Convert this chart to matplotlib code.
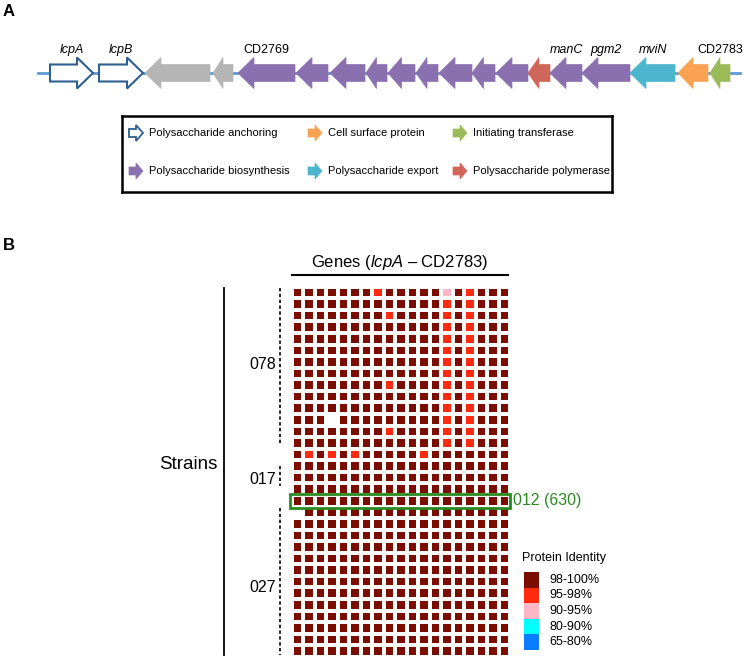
import numpy as np
import matplotlib
matplotlib.use('Agg')
import matplotlib.pyplot as plt
from matplotlib.patches import FancyArrow, Rectangle
from matplotlib.colors import ListedColormap, BoundaryNorm

plt.rcParams['font.family'] = ['Liberation Sans', 'DejaVu Sans']
plt.rcParams['mathtext.fontset'] = 'custom'
plt.rcParams['mathtext.rm'] = 'Liberation Sans'
plt.rcParams['mathtext.it'] = 'Liberation Sans:italic'

# ---- panel A: gene cluster (positions along the locus, drawing units) ----
gene_start = [50, 99, 145, 213, 238, 296, 330, 366, 388, 416, 439, 472, 496, 528, 550, 582, 630, 678, 710]
gene_end = [93, 143, 210, 233, 295, 328, 365, 387, 415, 438, 472, 495, 528, 550, 582, 630, 675, 708, 730]
gene_strand = [1, 1, -1, -1, -1, -1, -1, -1, -1, -1, -1, -1, -1, -1, -1, -1, -1, -1, -1]
gene_class = ['anchor', 'anchor', 'other', 'other', 'bio', 'bio', 'bio', 'bio', 'bio', 'bio',
              'bio', 'bio', 'bio', 'poly', 'bio', 'bio', 'export', 'surface', 'init']
gene_label = {0: 'lcpA', 1: 'lcpB', 4: 'CD2769', 14: 'manC', 15: 'pgm2', 16: 'mviN', 18: 'CD2783'}
italic_labels = ['lcpA', 'lcpB', 'manC', 'pgm2', 'mviN']

class_colors = {
    'anchor': 'white', 'other': '#B5B5B5', 'bio': '#8B70AF', 'poly': '#D0665A',
    'export': '#4DB6CF', 'surface': '#F9A352', 'init': '#9BBB59',
}
legend_names = [('anchor', 'Polysaccharide anchoring'), ('surface', 'Cell surface protein'),
                ('init', 'Initiating transferase'), ('bio', 'Polysaccharide biosynthesis'),
                ('export', 'Polysaccharide export'), ('poly', 'Polysaccharide polymerase')]

# ---- panel B: protein identity per strain (rows) and gene (columns) ----
n_strains = 32
n_genes = 19
red_cells = [(0, 7), (0, 15), (1, 13), (1, 15), (2, 8), (2, 13), (2, 15), (3, 13), (3, 15),
             (4, 13), (4, 15), (5, 13), (5, 15), (6, 13), (6, 15), (7, 13), (7, 15),
             (8, 8), (8, 13), (8, 15), (9, 13), (9, 15), (10, 13), (10, 15), (11, 13), (11, 15),
             (12, 8), (12, 13), (12, 15), (13, 13), (13, 15),
             (14, 1), (14, 3), (14, 5), (14, 11)]
pink_cells = [(0, 13)]
missing_cells = [(11, 3), (19, 0)]
groups = ['078', '017', '027']
highlight_row = 18
highlight_name = '012 (630)'

id_bins = [65, 80, 90, 95, 98, 100.5]
id_colors = ['#0A7CFF', '#00FFFF', '#FFB6C6', '#FF2A10', '#7A0C00']
id_labels = ['65-80%', '80-90%', '90-95%', '95-98%', '98-100%']

identity = np.full((n_strains, n_genes), 99.0)
for r, c in red_cells:
    identity[r, c] = 96.5
for r, c in pink_cells:
    identity[r, c] = 92.0
for r, c in missing_cells:
    identity[r, c] = np.nan

W, H = 744, 662
fig = plt.figure(figsize=(W / 100, H / 100), dpi=100)


def fx(x):
    return x / W


def fy(y):
    return 1 - y / H


# panel A gene map
ax_a = fig.add_axes([0, fy(100), 1, 100 / H])
ax_a.set_xlim(0, W)
ax_a.set_ylim(100, 0)
ax_a.axis('off')
ax_a.plot([38, 740], [73, 73], color='#5B9BD5', lw=2, zorder=1)
for i in range(len(gene_start)):
    length = gene_end[i] - gene_start[i]
    hl = min(16, 0.5 * length)
    x0 = gene_start[i] if gene_strand[i] > 0 else gene_end[i]
    cls = gene_class[i]
    ec = '#2F5F8F' if cls == 'anchor' else class_colors[cls]
    ax_a.add_patch(FancyArrow(x0, 73, gene_strand[i] * length, 0, width=17, head_width=31,
                              head_length=hl, length_includes_head=True,
                              fc=class_colors[cls], ec=ec, lw=1.5 if cls == 'anchor' else 0.5,
                              zorder=2))
    if i in gene_label:
        lab = gene_label[i]
        ax_a.text((gene_start[i] + gene_end[i]) / 2, 50, lab, ha='center', va='center',
                  fontsize=9, style='italic' if lab in italic_labels else 'normal')
ax_a.text(3, 12, 'A', fontsize=12, fontweight='bold', va='center')

# panel A legend box
ax_l = fig.add_axes([fx(122), fy(192), 490 / W, 76 / H])
ax_l.set_xlim(122, 612)
ax_l.set_ylim(192, 116)
ax_l.set_xticks([])
ax_l.set_yticks([])
for s in ax_l.spines.values():
    s.set_linewidth(1.8)
icon_x = [129, 308, 453]
icon_y = [133, 171]
for k, (cls, name) in enumerate(legend_names):
    xi = icon_x[k % 3]
    yi = icon_y[k // 3]
    ec = '#2F5F8F' if cls == 'anchor' else class_colors[cls]
    ax_l.add_patch(FancyArrow(xi, yi, 14, 0, width=8, head_width=16, head_length=7,
                              length_includes_head=True, fc=class_colors[cls], ec=ec,
                              lw=1.3 if cls == 'anchor' else 0.5))
    ax_l.text(xi + 20, yi, name, fontsize=8, va='center', ha='left')

# panel B heatmap
fig.text(fx(3), fy(246), 'B', fontsize=12, fontweight='bold', va='center')
ax_b = fig.add_axes([fx(291.5), fy(656.9), 218.5 / W, 370.2 / H])
cmap = ListedColormap(id_colors)
norm = BoundaryNorm(id_bins, cmap.N)
ax_b.pcolormesh(np.ma.masked_invalid(identity), cmap=cmap, norm=norm,
                edgecolors='white', linewidth=1.6)
ax_b.set_xlim(0, n_genes)
ax_b.set_ylim(n_strains, 0)
ax_b.axis('off')

ax_b.text(9.43, -2.13, r'Genes ($\mathit{lcpA}$ – CD2783)', ha='center', va='center', fontsize=12)
ax_b.plot([0, 18.8], [-1.05, -1.05], color='black', lw=1.5, clip_on=False)

ax_b.plot([-5.87, -5.87], [0.1, 31.8], color='black', lw=1.3, clip_on=False)
ax_b.text(-6.4, 15.4, 'Strains', ha='right', va='center', fontsize=13.5)

group_span = [(0.1, 13.7), (15.5, 17.2), (19.1, 31.8)]
group_label_y = [6.7, 16.7, 26.0]
for g, (y0, y1), yl in zip(groups, group_span, group_label_y):
    ax_b.plot([-1.0, -1.0], [y0, y1], color='black', lw=1.2, ls=(0, (2, 1.5)), clip_on=False)
    ax_b.text(-1.35, yl, g, ha='right', va='center', fontsize=11.5)

ax_b.add_patch(Rectangle((-0.12, highlight_row - 0.12), n_genes + 0.12, 1.24, fill=False,
                         ec='#2A8A22', lw=2, clip_on=False))
ax_b.text(n_genes + 0.25, highlight_row + 0.5, highlight_name, color='#2A8A22',
          ha='left', va='center', fontsize=11.5)

# identity legend
ax_b.text(20.05, 23.45, 'Protein Identity', ha='left', va='center', fontsize=9)
for k in range(len(id_colors)):
    idx = len(id_colors) - 1 - k
    ax_b.add_patch(Rectangle((20.22, 24.66 + 1.35 * k), 1.3, 1.35, fc=id_colors[idx],
                             ec='none', clip_on=False))
    ax_b.text(22.4, 24.66 + 1.35 * k + 0.67, id_labels[idx], ha='left', va='center', fontsize=9)

fig.savefig('out.png', dpi=100)
